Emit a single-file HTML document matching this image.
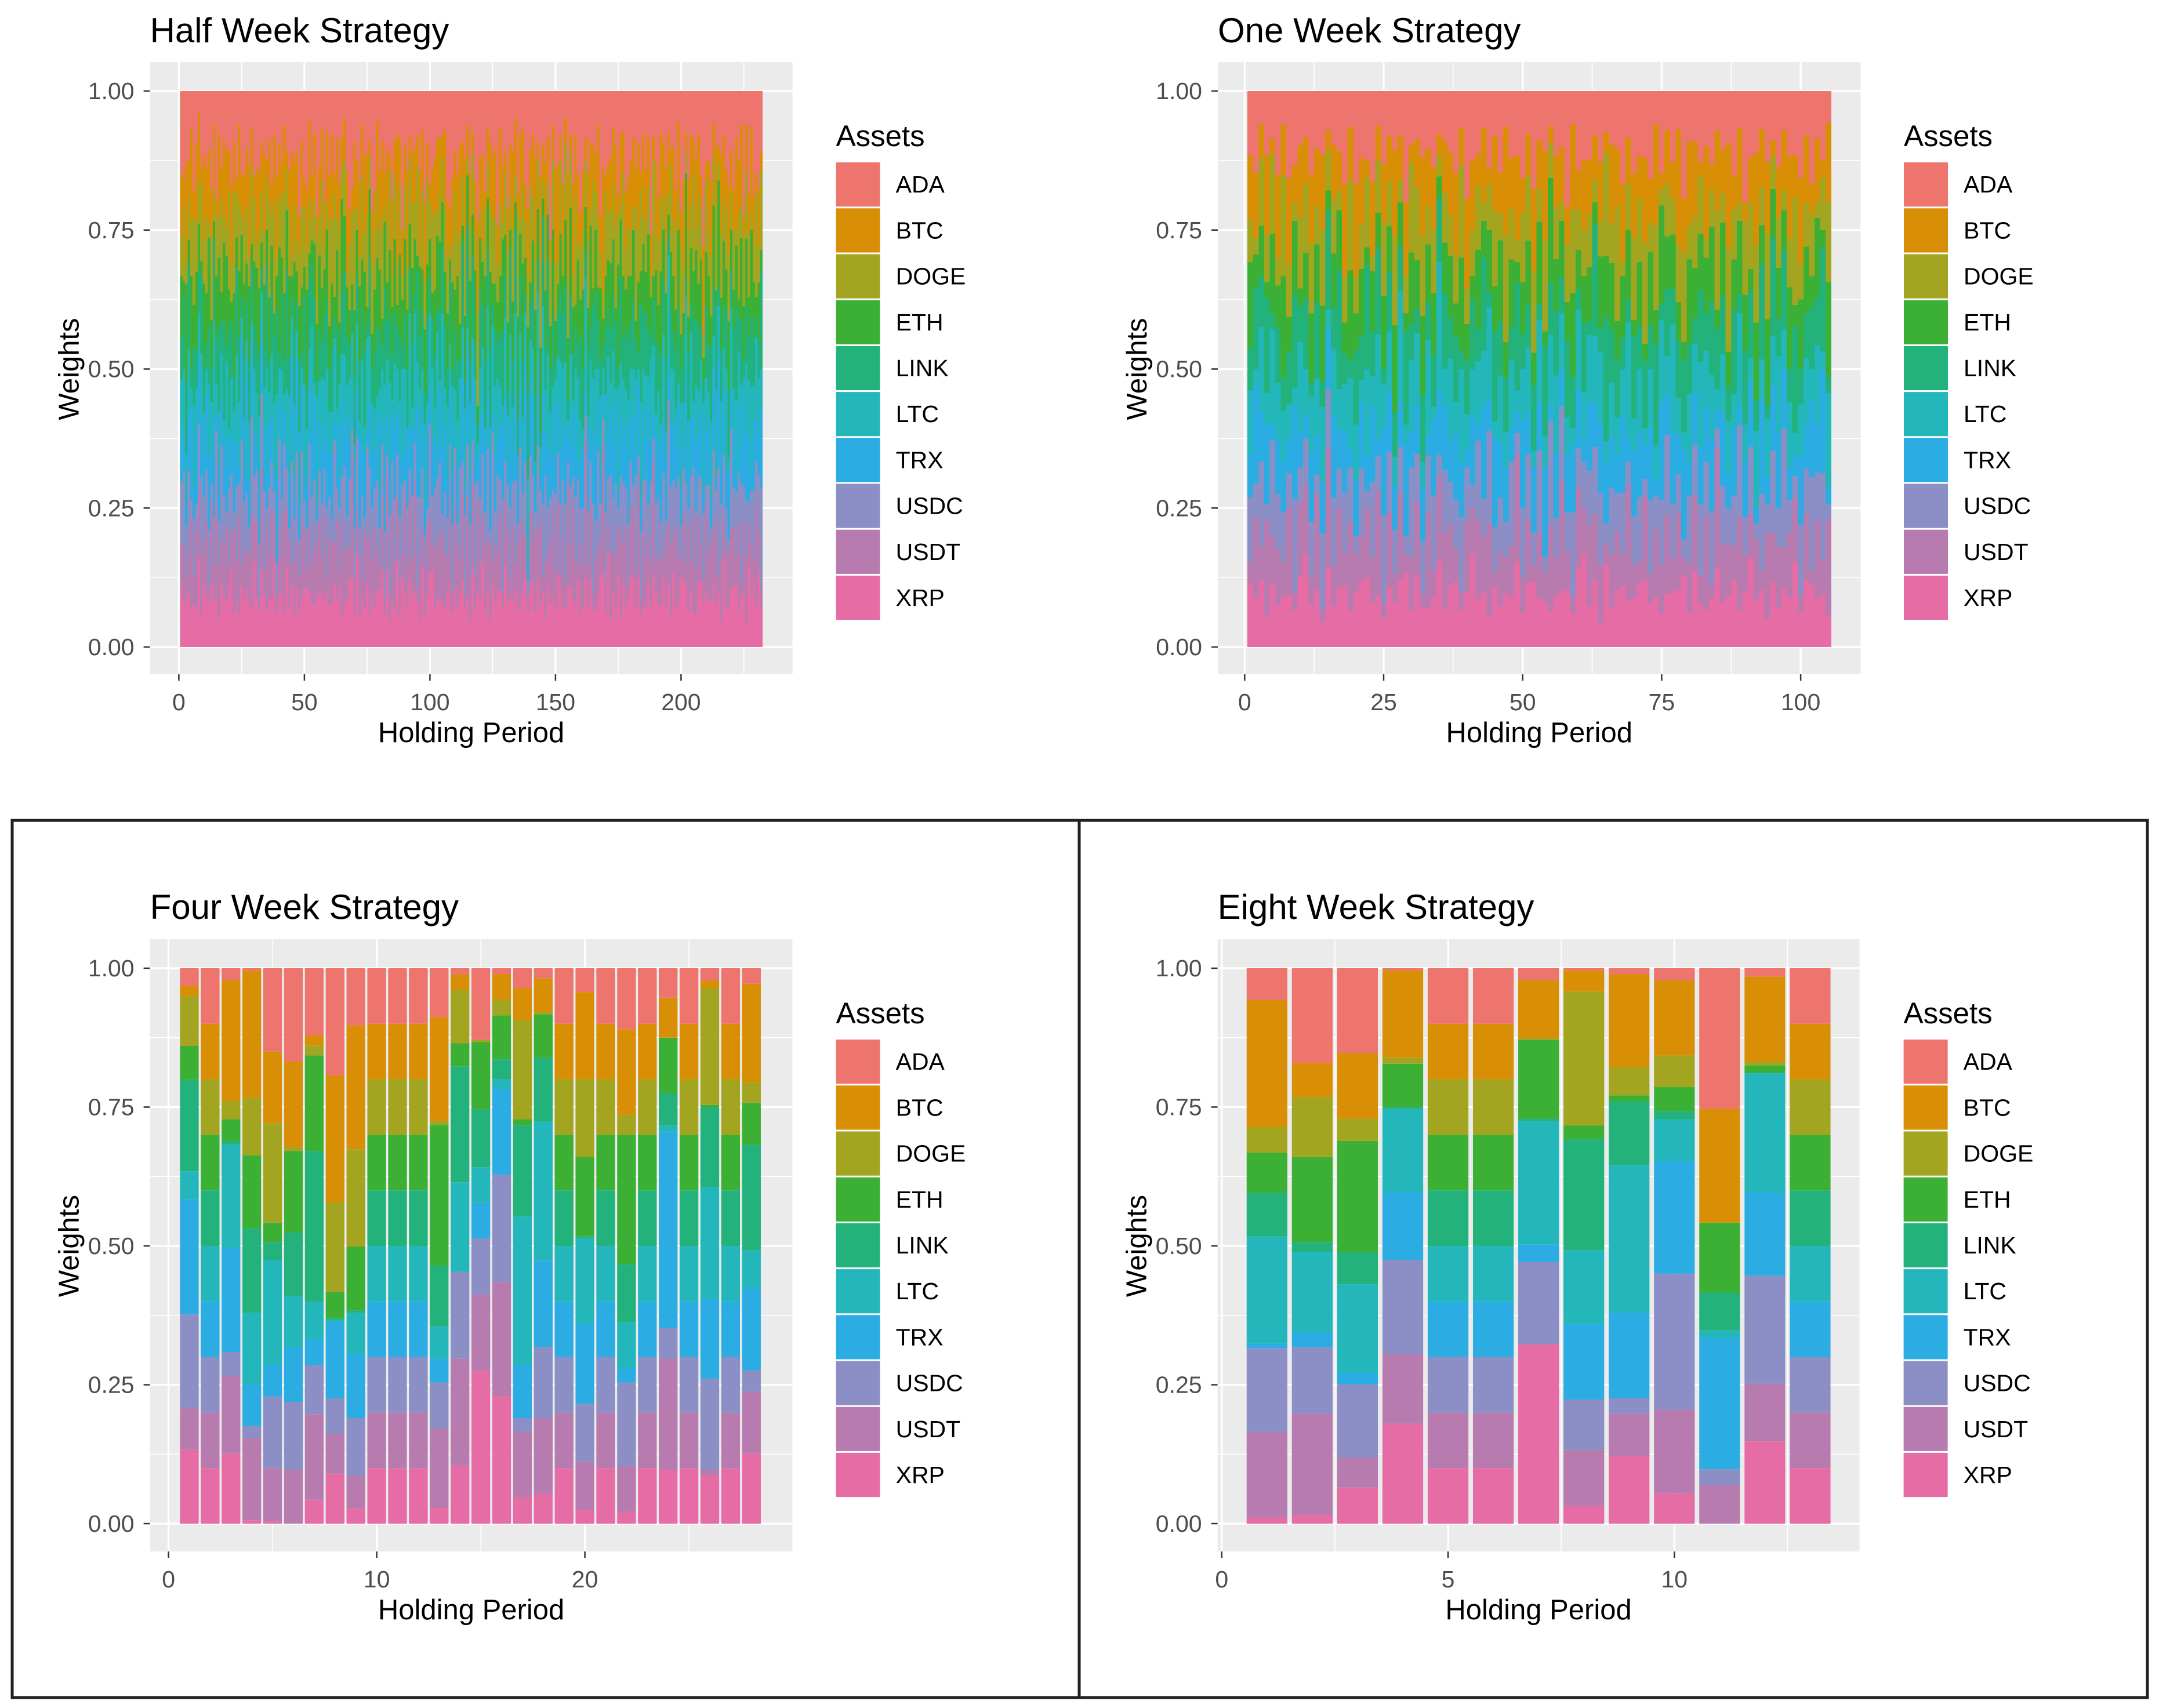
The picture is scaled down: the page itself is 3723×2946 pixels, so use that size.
<!DOCTYPE html>
<html><head><meta charset="utf-8">
<style>
html,body{margin:0;padding:0;background:#fff;}
svg{display:block;font-family:"Liberation Sans",Arial,sans-serif;}
</style></head>
<body>
<svg id="root" width="3723" height="2946" viewBox="0 0 3723 2946" xmlns="http://www.w3.org/2000/svg">
<rect x="0" y="0" width="3723" height="2946" fill="#fff"/>
<rect x="21" y="1415" width="1840" height="1513" fill="none" stroke="#231f20" stroke-width="5"/>
<rect x="1861" y="1415" width="1842" height="1513" fill="none" stroke="#231f20" stroke-width="5"/>
</svg>
<script>
const assets = ["ADA","BTC","DOGE","ETH","LINK","LTC","TRX","USDC","USDT","XRP"];
const colors = ["#ED756D","#D88F05","#A3A521","#3CB035","#23B27C","#23B7BC","#2BACE3","#8B8FC6","#B87BB0","#E66CA5"];
const yTicks = [0,0.25,0.5,0.75,1];
const yTickLabels = ["0.00","0.25","0.50","0.75","1.00"];

// Half week (232 periods): per-asset relative weights (digits, normalised per bar)
const halfWeekCount = 232;
const hwADA  = "4635274153 3462735243 5362473524 3725436253 4236354733 5243762534 2436325743 3625437524 2535742363 4253362735 3524236753 4335262574 3624357243 5342632573 2436353724 3352436257 4263352735 3524632573 2435363724 5336243527 4253362574 3624352473 5342735264 53";
const hwBTC  = "3243526314 2534162352 4315243621 3526142353 2413536241 3625143252 4153236214 2536413253 3241536322 5143263521 2435163242 3526241353 4125362431 2354163242 3516243125 4232516342 3154236251 2436152343 3251643214 2536314252 4135263241 3524163252 2635142531 31";
const hwDOGE = "2513364252 3152436125 2634153243 1524362513 3625142352 2413536125 3526241436 1253624352 4136252413 2352614352 3614253125 2536143252 1425362413 3252614235 2436152343 1526342513 3251634215 2436315242 1635243152 3524163425 2153624314 2436152352 3152463125 24";
const hwETH  = "3142536214 2631452362 1524362513 3615243126 2436152341 5214363252 3152643214 2536142353 1425361524 3263152432 1536243152 4215362413 2536142352 3142635241 2536143252 1425363152 4236152413 2531643252 3142536214 2635143252 1524362413 3251643252 2415362531 31";
const hwLINK = "2536143252 1425362415 3264152432 2513624351 4263152413 2536142352 3152463214 2436152353 1625342413 3251643252 2416352413 3152634215 2436152342 1536243152 3421536241 2536143225 3152463214 2435162352 3216453124 2536142352 3142563214 2536142352 3624152431 25";
const hwLTC  = "3425163242 1536243152 3264152413 2513624352 4136252413 3251634252 2416352431 3152643215 2436152343 1526342514 3251634252 2436152413 3152463214 2536142352 3142536214 2635143252 1524362413 3251643252 2416352431 3152643215 2436152343 1526342514 2534163524 32";
const hwTRX  = "2314526342 3526143251 2431526342 1635243152 3214536241 2536143252 3142536214 2635143252 1524362413 3251643252 2416352431 3152643215 2436152343 1526342514 3251634252 2436152413 3152463214 2536142352 3142536214 2635143252 1524362413 3251643252 3142563142 24";
const hwUSDC = "3526142352 2413536214 3152643252 2536143125 3421536241 2635143252 1524362413 3251643252 2416352431 3152643215 2436152343 1526342514 3251634252 2436152413 3152463214 2536142352 3142536214 2635143252 1524362413 3251643252 2416352431 3152643215 2436251342 35";
const hwUSDT = "2413526342 3152643251 2536142352 3142536214 2635143252 1524362413 3251643252 2416352431 3152643215 2436152343 1526342514 3251634252 2436152413 3152463214 2536142352 3142536214 2635143252 1524362413 3251643252 2416352431 3152643215 2436152343 3251462315 21";
const hwXRP  = "3324233423 2343324233 4232343324 2334233423 3243324232 3423343242 2334233432 4233423243 3242334233 2343324234 3324233423 2343324233 4232343324 2334233423 3243324232 3423343242 2334233432 4233423243 3242334233 2343324234 3324233423 2343324233 3423324342 42";

// One week (105 periods)
const oneWeekCount = 105;
const owADA  = "3524362543 2635243625 3462534263 2536243526 3425362435 2634253624 3526243625 3462534263 2536243526 3425362435 26342";
const owBTC  = "3425163524 2536142635 3152436241 2635143525 3241536342 2536143252 3425163524 2536142635 3152436241 2635143525 32415";
const owDOGE = "2143526314 3526241352 2413536125 3625142352 2413526314 3526241352 2413536125 3625142352 2413526314 3526241352 24135";
const owETH  = "4231536241 2536143252 3142536214 2635143252 1524362413 3251643252 2416352431 3152643215 2436152343 1526342514 32516";
const owLINK = "2536142352 3142536214 2635143252 1524362413 3251643252 2416352431 3152643215 2436152343 1526342514 3251634252 24361";
const owLTC  = "3152643215 2436152343 1526342514 3251634252 2436152413 3152463214 2536142352 3142536214 2635143252 1524362413 32516";
const owTRX  = "2635143252 1524362413 3251643252 2416352431 3152643215 2436152343 1526342514 3251634252 2436152413 3152463214 25361";
const owUSDC = "3251643252 2416352431 3152643215 2436152343 1526342514 3251634252 2436152413 3152463214 2536142352 3142536214 26351";
const owUSDT = "1526342514 3251634252 2436152413 3152463214 2536142352 3142536214 2635143252 1524362413 3251643252 2416352431 31526";
const owXRP  = "3342433324 4332433423 3433243342 3324433423 4332433342 3433243324 4332433423 3433243342 3324433423 4332433342 34332";

// Four week (28 periods), percent
const fwADA  = [3.2,10,2.2,0.4,15.0,16.8,12.1,19.3,10.3,10,10,10,8.8,1.1,12.9,1.1,3.6,1.8,10,4.3,10,11.0,10,5.3,10,2.2,10,2.8];
const fwBTC  = [1.8,10,21.7,22.9,12.9,15.4,1.8,22.9,22.3,10,10,10,18.7,2.8,0,4.6,5.7,6.1,10,15.7,10,15.4,10,7.2,10,1.4,10,17.8];
const fwDOGE = [9.0,10,3.3,10.4,17.9,0.7,1.8,16.1,17.5,10,10,10,0.7,9.6,0.4,2.8,17.9,0.4,10,14.0,10,3.6,10,0,10,21.0,10,3.6];
const fwETH  = [6.1,10,3.9,13.1,3.5,14.6,17.2,4.7,11.5,10,10,10,25.3,4.2,12.1,7.9,1.1,7.9,10,14.3,10,23.3,10,10.0,10,0.4,10,7.6];
const fwLINK = [16.5,10,0.7,15.2,3.3,11.5,27.2,0.4,0.4,10,10,10,10.9,20.8,10.4,3.6,16.4,11.5,10,0.4,10,10.4,10,5.8,10,14.4,10,19.0];
const fwLTC  = [5.0,10,18.6,12.9,18.8,9.1,6.6,0.4,7.5,10,10,10,5.8,16.1,6.4,1.8,26.7,25.1,10,15.4,10,8.3,10,1.1,10,20.1,10,6.8];
const fwTRX  = [20.8,10,18.7,7.5,5.7,9.9,4.7,13.7,11.5,10,10,10,4.3,0,6.4,15.4,9.6,15.6,10,14.4,10,2.6,10,35.4,10,14.4,10,14.8];
const fwUSDC = [16.9,10,4.3,2.2,12.9,12.2,8.9,6.4,10.4,10,10,10,8.3,15.6,10.1,19.3,2.5,12.9,10,10.4,10,15.0,10,5.5,10,16.4,10,3.9];
const fwUSDT = [7.5,10,14.0,14.8,9.6,9.7,15.4,7.2,5.8,10,10,10,14.3,19.3,13.7,20.6,11.8,13.6,10,8.7,10,8.3,10,20.0,10,1.1,10,11.1];
const fwXRP  = [13.3,10,12.6,0.6,0.4,0,4.3,9.0,2.8,10,10,10,2.8,10.4,27.5,22.9,4.7,5.4,10,2.5,10,2.1,10,9.7,10,8.6,10,12.6];

// Eight week (13 periods), percent
const ewADA  = [5.7,17.1,15.3,0.4,10,10,2.2,0.4,1.1,2.2,25.3,1.5,10];
const ewBTC  = [22.9,6.1,11.8,15.7,10,10,10.4,3.8,16.7,13.5,20.5,15.3,10];
const ewDOGE = [4.6,10.8,4.0,1.1,10,10,0.3,24.1,5.1,5.7,0,0.7,10];
const ewETH  = [7.2,15.3,20.0,7.8,10,10,14.2,2.5,1.1,4.3,12.6,1.4,10];
const ewLINK = [7.9,1.8,5.8,0.3,10,10,0.4,20.0,11.4,1.5,6.8,0,10];
const ewLTC  = [19.3,14.4,15.9,15.1,10,10,22.2,13.3,26.6,7.5,1.4,21.5,10];
const ewTRX  = [0.8,2.7,2.1,12.1,10,10,3.2,13.6,15.4,20.3,23.6,15.0,10];
const ewUSDC = [15.1,12.0,13.2,17.0,10,10,14.8,9.0,2.8,24.5,2.9,19.4,10];
const ewUSDT = [15.4,18.3,5.4,12.5,10,10,0,10.1,7.6,15.1,6.9,10.4,10];
const ewXRP  = [1.1,1.5,6.5,18.0,10,10,32.3,3.2,12.2,5.4,0,14.8,10];

const hwBreaks = [0,50,100,150,200], hwMinor = [25,75,125,175,225];
const owBreaks = [0,25,50,75,100], owMinor = [12.5,37.5,62.5,87.5];
const fwBreaks = [0,10,20], fwMinor = [5,15,25];
const ewBreaks = [0,5,10], ewMinor = [2.5,7.5,12.5];

const NS = "http://www.w3.org/2000/svg";
const root = document.getElementById("root");
function mk(tag, attrs, parent){
  const e = document.createElementNS(NS, tag);
  for (const k in attrs) e.setAttribute(k, attrs[k]);
  (parent||root).appendChild(e);
  return e;
}
function digits(s, n){
  const c = s.replace(/\s/g,"");
  const out = [];
  for (let i=0;i<n;i++) out.push(Number(c[i] || "3"));
  return out;
}

function drawPanel(p){
  const g = mk("g", {});
  
  
  const xS = v => p.x0 + v * p.xs;
  const yS = v => p.yBot - v * (p.yBot - p.yTop);
  const bg = mk("rect", {x:p.bgX0, y:p.bgY0, width:p.bgX1-p.bgX0, height:p.bgY1-p.bgY0, fill:"#EBEBEB"}, g);
  
  
  const ym = [0.125,0.375,0.625,0.875];
  ym.forEach(v=>{
    const l = mk("line",{x1:p.bgX0,x2:p.bgX1,y1:yS(v),y2:yS(v),stroke:"#fff","stroke-width":1.6},g);
    
    
  });
  p.minor.forEach(v=>{
    const l = mk("line",{x1:xS(v),x2:xS(v),y1:p.bgY0,y2:p.bgY1,stroke:"#fff","stroke-width":1.6},g);
    
    
  });
  yTicks.forEach(v=>{
    const l = mk("line",{x1:p.bgX0,x2:p.bgX1,y1:yS(v),y2:yS(v),stroke:"#fff","stroke-width":3.2},g);
    
    
  });
  p.breaks.forEach(v=>{
    const l = mk("line",{x1:xS(v),x2:xS(v),y1:p.bgY0,y2:p.bgY1,stroke:"#fff","stroke-width":3.2},g);
    
    
  });
  const bars = mk("g", {"shape-rendering": p.crisp ? "crispEdges" : "auto"}, g);
  
  
  const hw = p.barWidth/2;
  for (let i=0;i<p.n;i++){
    let total = 0;
    for (let a=0;a<assets.length;a++) total += p.series[a][i];
    if (total<=0) continue;
    let cum = 0;
    const bx0 = xS(i+1-hw), bx1 = xS(i+1+hw);
    for (let a=assets.length-1;a>=0;a--){
      const v = p.series[a][i]/total;
      if (v<=0) continue;
      const y1 = yS(cum), y0 = yS(cum+v);
      const r = mk("rect",{x:bx0,y:y0,width:bx1-bx0,height:y1-y0,fill:colors[a]},bars);
      
      
      cum += v;
    }
  }
  yTicks.forEach((v,k)=>{
    const t = mk("line",{x1:p.bgX0-11,x2:p.bgX0,y1:yS(v),y2:yS(v),stroke:"#333","stroke-width":2.5},g);
    
    
    const tx = mk("text",{x:p.bgX0-27,y:yS(v)+14,"text-anchor":"end","font-size":41,fill:"#4D4D4D"},g);
    tx.textContent = yTickLabels[k];
    
    
  });
  p.breaks.forEach(v=>{
    const t = mk("line",{x1:xS(v),x2:xS(v),y1:p.bgY1,y2:p.bgY1+11,stroke:"#333","stroke-width":2.5},g);
    
    
    const tx = mk("text",{x:xS(v),y:p.bgY1+62,"text-anchor":"middle","font-size":41,fill:"#4D4D4D"},g);
    tx.textContent = String(v);
    
    
  });
  const ti = mk("text",{x:p.bgX0,y:p.titleY,"font-size":60,fill:"#000"},g);
  ti.textContent = p.title;
  
  
  const xt = mk("text",{x:(p.bgX0+p.bgX1)/2,y:p.bgY1+117,"text-anchor":"middle","font-size":49,fill:"#000"},g);
  xt.textContent = "Holding Period";
  
  
  const cy = (p.yTop+p.yBot)/2, cx = p.bgX0-123;
  const yt = mk("text",{x:cx,y:cy,"text-anchor":"middle","font-size":49,fill:"#000",transform:"rotate(-90 "+cx+" "+cy+")"},g);
  yt.textContent = "Weights";
  
  
  const lg = mk("g",{},g);
  
  
  const lx = p.bgX0 + 1183, ly = p.yTop + 121.6;
  const lt = mk("text",{x:lx,y:ly-26.6,"font-size":51,fill:"#000"},lg);
  lt.textContent = "Assets";
  
  
  assets.forEach((name,a)=>{
    const ky = ly + a*79.2;
    const r = mk("rect",{x:lx,y:ky+1.5,width:76,height:76.2,fill:colors[a]},lg);
    
    
    const t = mk("text",{x:lx+103,y:ky+39.6+14,"font-size":41,fill:"#000"},lg);
    t.textContent = name;
    
    
  });
}

drawPanel({key:"half-week", title:"Half Week Strategy", n:halfWeekCount,
  series:[hwADA,hwBTC,hwDOGE,hwETH,hwLINK,hwLTC,hwTRX,hwUSDC,hwUSDT,hwXRP].map(s=>digits(s,halfWeekCount)),
  bgX0:258.6,bgX1:1366.6,bgY0:107,bgY1:1163,x0:308.4,xs:4.33,yTop:157,yBot:1116,
  breaks:hwBreaks,minor:hwMinor,titleY:73,crisp:true,barWidth:1.0});
drawPanel({key:"one-week", title:"One Week Strategy", n:oneWeekCount,
  series:[owADA,owBTC,owDOGE,owETH,owLINK,owLTC,owTRX,owUSDC,owUSDT,owXRP].map(s=>digits(s,oneWeekCount)),
  bgX0:2100,bgX1:3208.5,bgY0:107,bgY1:1163,x0:2146.3,xs:9.588,yTop:157,yBot:1116,
  breaks:owBreaks,minor:owMinor,titleY:73,crisp:true,barWidth:1.0});
drawPanel({key:"four-week", title:"Four Week Strategy", n:fwADA.length,
  series:[fwADA,fwBTC,fwDOGE,fwETH,fwLINK,fwLTC,fwTRX,fwUSDC,fwUSDT,fwXRP],
  bgX0:258.6,bgX1:1366.5,bgY0:1620,bgY1:2676,x0:290.6,xs:35.9,yTop:1670,yBot:2628,
  breaks:fwBreaks,minor:fwMinor,titleY:1585,crisp:false,barWidth:0.9});
drawPanel({key:"eight-week", title:"Eight Week Strategy", n:ewADA.length,
  series:[ewADA,ewBTC,ewDOGE,ewETH,ewLINK,ewLTC,ewTRX,ewUSDC,ewUSDT,ewXRP],
  bgX0:2099.6,bgX1:3206.5,bgY0:1620,bgY1:2676,x0:2106.8,xs:78.05,yTop:1670,yBot:2628,
  breaks:ewBreaks,minor:ewMinor,titleY:1585,crisp:false,barWidth:0.9});
</script>
</body></html>
